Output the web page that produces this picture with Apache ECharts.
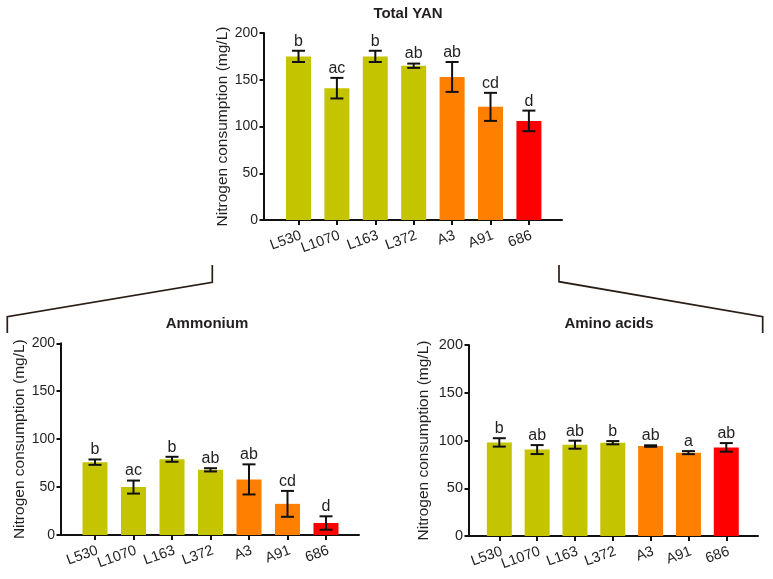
<!DOCTYPE html>
<html><head><meta charset="utf-8">
<script src="https://cdn.jsdelivr.net/npm/echarts@6/dist/echarts.min.js"></script>
<style>html,body{margin:0;padding:0;background:#fff}#c{width:773px;height:579px}</style>
</head><body><div id="c"></div>
<script>
// ---- data ----
const categories = ['L530', 'L1070', 'L163', 'L372', 'A3', 'A91', '686'];
const barColors = ['#c4c400', '#c4c400', '#c4c400', '#c4c400', '#ff8000', '#ff8000', '#ff0000'];

const totalMean = [175, 141, 175, 165, 153, 121, 106];
const totalErr = [6, 11, 6, 2.3, 16, 15, 11];
const totalLetters = ['b', 'ac', 'b', 'ab', 'ab', 'cd', 'd'];

const ammoniumMean = [76, 50, 79, 68, 58, 32.5, 12.5];
const ammoniumErr = [2.8, 6.8, 2.6, 1.7, 15.7, 13.5, 7];
const ammoniumLetters = ['b', 'ac', 'b', 'ab', 'ab', 'cd', 'd'];

const aminoMean = [98, 90.5, 95.6, 97.7, 94.2, 87.3, 92.8];
const aminoErr = [4.4, 4.7, 4.2, 1.7, 0.8, 1.6, 4.5];
const aminoLetters = ['b', 'ab', 'ab', 'b', 'ab', 'a', 'ab'];

const yMin = 0, yMax = 200, yInterval = 50;
const panelTitles = ['Total YAN', 'Ammonium', 'Amino acids'];
const yAxisName = 'Nitrogen consumption (mg/L)';

// ---- styling / layout ----
const FONT = '"Liberation Sans", Arial, Helvetica, sans-serif';
const INK = '#231f20';
const AXIS = '#111111';

const panels = [
  { mean: totalMean, err: totalErr, letters: totalLetters, title: panelTitles[0],
    frame: { left: 264, top: 33, width: 298, height: 187 }, bars: { left: 279.3, width: 268.8 },
    titleX: 408, titleY: 13.5, nameGap: 33, tickFont: 14 },
  { mean: ammoniumMean, err: ammoniumErr, letters: ammoniumLetters, title: panelTitles[1],
    frame: { left: 61, top: 343.3, width: 298, height: 191.7 }, bars: { left: 75.75, width: 269.5 },
    titleX: 207, titleY: 323.5, nameGap: 29, tickFont: 14 },
  { mean: aminoMean, err: aminoErr, letters: aminoLetters, title: panelTitles[2],
    frame: { left: 469, top: 345, width: 289, height: 191 }, bars: { left: 480.4, width: 264.8 },
    titleX: 609, titleY: 323.5, nameGap: 37, tickFont: 14.5 }
];

const grid = [], xAxis = [], yAxis = [], series = [], graphic = [];

function errRender(letters) {
  return function (params, api) {
    const i = api.value(0), m = api.value(1), e = api.value(2);
    const top = api.coord([i, m + e]);
    const bot = api.coord([i, m - e]);
    const x = top[0], hw = 6.5;
    const ls = { stroke: AXIS, lineWidth: 2 };
    return {
      type: 'group',
      children: [
        { type: 'line', shape: { x1: x, y1: top[1], x2: x, y2: bot[1] }, style: ls },
        { type: 'line', shape: { x1: x - hw, y1: top[1], x2: x + hw, y2: top[1] }, style: ls },
        { type: 'line', shape: { x1: x - hw, y1: bot[1], x2: x + hw, y2: bot[1] }, style: ls },
        { type: 'text', x: x, y: top[1] - 1.5,
          style: { text: letters[params.dataIndex], align: 'center', verticalAlign: 'bottom',
                   fontSize: 16, fontFamily: FONT, fill: INK } }
      ]
    };
  };
}

panels.forEach(function (p, k) {
  const gFrame = 2 * k, gBars = 2 * k + 1;
  grid.push({ left: p.frame.left, top: p.frame.top, width: p.frame.width, height: p.frame.height,
              outerBoundsMode: 'none', containLabel: false });
  grid.push({ left: p.bars.left, top: p.frame.top, width: p.bars.width, height: p.frame.height,
              outerBoundsMode: 'none', containLabel: false });
  // frame axes
  xAxis.push({ type: 'value', gridIndex: gFrame, min: 0, max: 1, interval: 1,
    axisLine: { show: true, lineStyle: { color: AXIS, width: 2 } },
    axisTick: { show: false }, axisLabel: { show: false }, splitLine: { show: false } });
  yAxis.push({ type: 'value', gridIndex: gFrame, min: yMin, max: yMax, interval: yInterval,
    name: yAxisName, nameLocation: 'middle', nameGap: p.nameGap,
    nameTextStyle: { fontSize: 15.5, color: INK, fontFamily: FONT },
    axisLine: { show: true, lineStyle: { color: AXIS, width: 2 } },
    axisTick: { show: true, length: 4.5, lineStyle: { color: AXIS, width: 2 } },
    axisLabel: { fontSize: p.tickFont, color: INK, fontFamily: FONT, margin: 6 },
    splitLine: { show: false } });
  // bars axes
  xAxis.push({ type: 'category', gridIndex: gBars, data: categories,
    axisLine: { show: false },
    axisTick: { show: true, alignWithLabel: true, length: 5, lineStyle: { color: AXIS, width: 2 } },
    axisLabel: { rotate: 20, fontSize: 14.5, color: INK, fontFamily: FONT, margin: 8, interval: 0,
                 align: 'right', verticalAlign: 'top' },
    splitLine: { show: false } });
  yAxis.push({ type: 'value', gridIndex: gBars, min: yMin, max: yMax, interval: yInterval, show: false });

  series.push({ type: 'bar', xAxisIndex: gBars, yAxisIndex: gBars, barWidth: 25, z: 2,
    data: p.mean.map(function (v, i) { return { value: v, itemStyle: { color: barColors[i] } }; }),
    silent: true });
  series.push({ type: 'custom', xAxisIndex: gBars, yAxisIndex: gBars, z: 4,
    renderItem: errRender(p.letters),
    data: p.mean.map(function (v, i) { return [i, v, p.err[i]]; }), silent: true });

  graphic.push({ type: 'text', x: p.titleX, y: p.titleY,
    style: { text: p.title, align: 'center', verticalAlign: 'middle', fontSize: 15,
             fontWeight: 'bold', fontFamily: FONT, fill: INK } });
});

// connector brackets
graphic.push({ type: 'polyline', shape: { points: [[212.3, 265], [212.3, 282.3], [7.3, 316.7], [7.3, 333]] },
  style: { stroke: '#2b1d14', lineWidth: 1.7, fill: null } });
graphic.push({ type: 'polyline', shape: { points: [[559, 265], [559, 281.7], [762.7, 316.7], [762.7, 333]] },
  style: { stroke: '#2b1d14', lineWidth: 1.7, fill: null } });

const chart = echarts.init(document.getElementById('c'), null, { renderer: 'canvas' });
chart.setOption({
  animation: false,
  backgroundColor: '#ffffff',
  grid: grid, xAxis: xAxis, yAxis: yAxis, series: series, graphic: graphic
});
</script>
</body></html>
